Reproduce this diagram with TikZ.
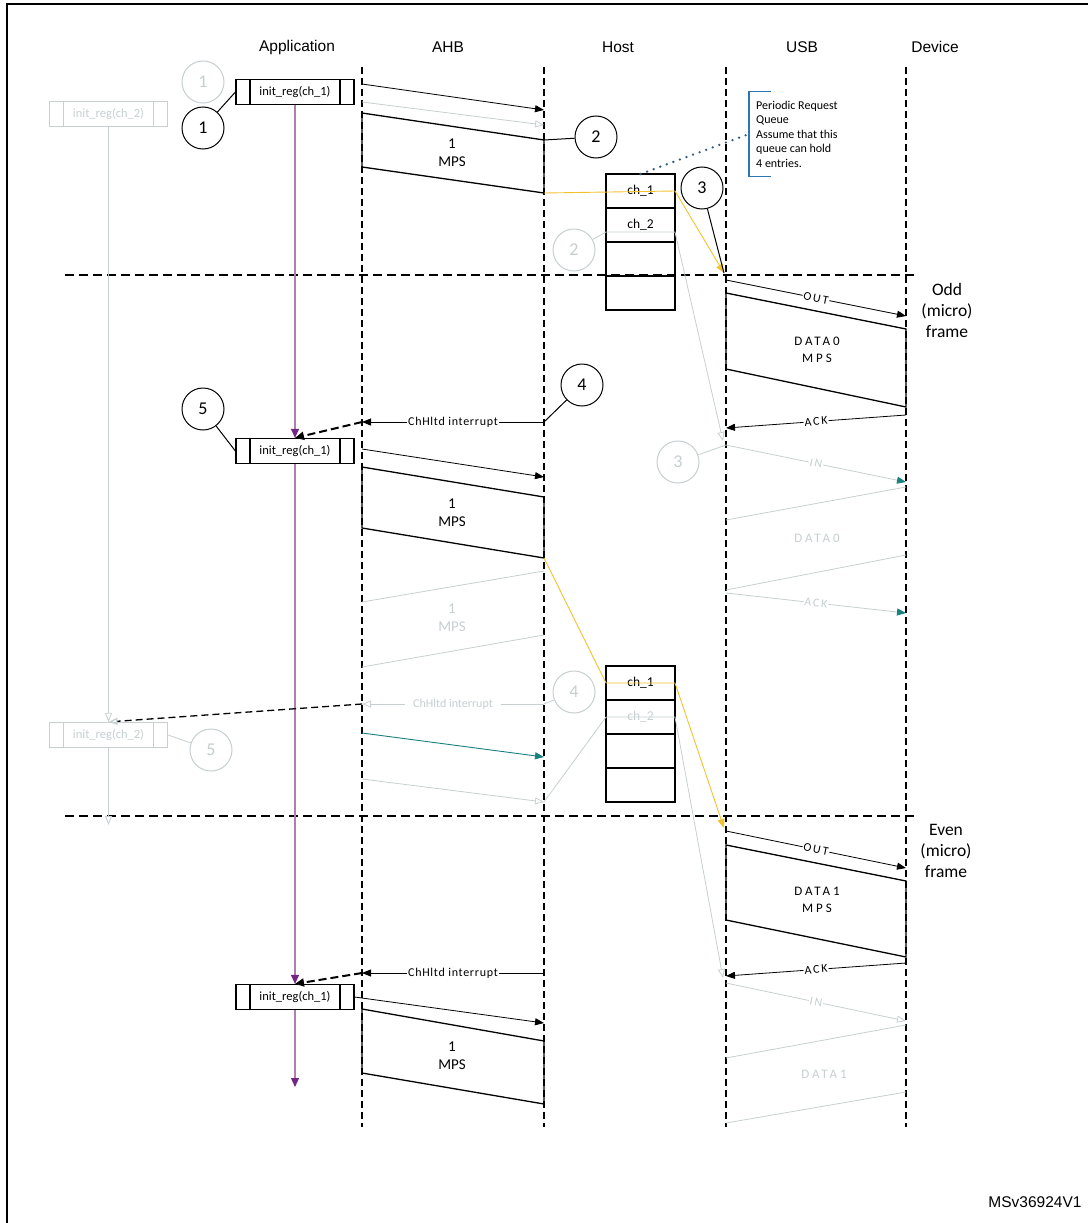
\documentclass[tikz,border=0pt]{standalone}
\usepackage{fontspec}
\setmainfont{Carlito}
\newfontfamily\arialfont{Liberation Sans}
\usepackage{tikz}
\usetikzlibrary{arrows.meta,positioning}
\definecolor{faded grey}{rgb}{0.78, 0.81, 0.82}
\definecolor{deep teal}{rgb}{0.1, 0.5, 0.5}
\definecolor{queue gold}{rgb}{0.95, 0.76, 0.18}
\definecolor{app purple}{rgb}{0.68, 0.5, 0.68}
\definecolor{tip purple}{rgb}{0.45, 0.15, 0.52}
\definecolor{note blue}{rgb}{0.18, 0.46, 0.71}
\definecolor{dot blue}{rgb}{0.2, 0.36, 0.5}

\begin{document}
\begin{tikzpicture}[x=1pt, y=-1pt,
	lifeline/.style={line width=2pt, dash pattern=on 7pt off 4pt},
	frameline/.style={line width=2pt, dash pattern=on 9pt off 5pt},
	msg/.style={line width=0.8pt, -{Triangle[length=9pt, width=7pt]}},
	ghost/.style={draw=faded grey, line width=0.8pt},
	ghostmsg/.style={ghost, -{Triangle[open, length=9pt, width=7pt]}},
	tealmsg/.style={ghost, -{Triangle[length=9pt, width=7pt, color=deep teal]}},
	irq/.style={line width=2pt, dash pattern=on 8pt off 4pt, -{Triangle[length=9pt, width=8pt]}},
	block/.style={line width=1.3pt},
	tag/.style={midway, sloped, fill=white, inner sep=1pt,
		font=\fontsize{12}{12}\selectfont\addfontfeature{LetterSpace=15}},
	payload/.style={align=center, font=\fontsize{15}{18}\selectfont},
	spaced/.style={align=center, font=\fontsize{13}{17}\selectfont\addfontfeature{LetterSpace=22}},
	stepnum/.style={circle, draw, line width=1pt, minimum size=42pt, inner sep=0pt,
		fill=white, font=\fontsize{18}{18}\selectfont},
	ghostnum/.style={stepnum, draw=faded grey, text=faded grey},
	regbox/.style={draw=#1, line width=1.2pt, minimum width=118pt, minimum height=25pt,
		inner sep=0pt, fill=white, font=\fontsize{12.5}{12.5}\selectfont,
		path picture={\draw[#1, line width=1.2pt]
			([xshift=14pt]path picture bounding box.north west) -- ([xshift=14pt]path picture bounding box.south west)
			([xshift=-14pt]path picture bounding box.north east) -- ([xshift=-14pt]path picture bounding box.south east);}},
	regbox/.default=black,
	cell/.style={draw, line width=1.2pt, minimum width=69pt, minimum height=34pt,
		inner sep=0pt, outer sep=0pt, font=\fontsize{13.5}{13.5}\selectfont},
	header/.style={font=\arialfont\fontsize{15.5}{15.5}\selectfont}]
	\useasboundingbox (0,0) rectangle (1087,1223);
	% outer frame
	\draw[line width=2pt] (7,1240) -- (7,4) -- (1100,4);
	% headers and lifelines
	\node[header] (app) at (297,47) {Application};
	\node[header] (ahb) at (448,47) {AHB};
	\node[header] (host) at (618,47) {Host};
	\node[header] (usb) at (802,47) {USB};
	\node[header] (dev) at (935,47) {Device};
	\foreach \x/\n in {362/ahbl, 544/hostl, 726/usbl, 906/devl} {
		\coordinate (\n top) at (\x,67);
		\coordinate (\n bot) at (\x,1127);
		\draw[lifeline] (\n top) -- (\n bot);
	}
	% (micro) frame boundaries
	\coordinate (oddw) at (65,275);
	\coordinate (odde) at (915,275);
	\coordinate (evenw) at (65,816);
	\coordinate (evene) at (915,816);
	\draw[frameline] (oddw) -- (odde) (evenw) -- (evene);
	\node[align=center, font=\fontsize{17.5}{21}\selectfont] (odd) at (947,310) {Odd\\(micro)\\frame};
	\node[align=center, font=\fontsize{17.5}{21}\selectfont] (even) at (946,851) {Even\\(micro)\\frame};

	% application side
	\node[regbox] (reg1) at (295,92) {init\_reg(ch\_1)};
	\node[regbox] (reg2) at (295,451) {init\_reg(ch\_1)};
	\node[regbox] (reg3) at (295,997) {init\_reg(ch\_1)};
	\node[regbox=faded grey, text=faded grey] (greg1) at (108.5,114) {init\_reg(ch\_2)};
	\node[regbox=faded grey, text=faded grey] (greg2) at (108.5,735) {init\_reg(ch\_2)};
	\coordinate (append) at (295,1087);
	\coordinate (gappend) at (108.5,825);
	\draw[app purple, line width=1.2pt, -{Triangle[length=9pt, width=8pt, color=tip purple]}]
		(reg1) -- (reg2.north);
	\draw[app purple, line width=1.2pt, -{Triangle[length=9pt, width=8pt, color=tip purple]}]
		(reg2) -- (reg3.north);
	\draw[app purple, line width=1.2pt, -{Triangle[length=9pt, width=8pt, color=tip purple]}]
		(reg3.south) -- (append);
	\draw[ghostmsg] (greg1.south) -- (greg2.north);
	\draw[ghostmsg] (greg2.south) -- (gappend);

	% queues in the host
	\node[cell] (q1a) at (640.5,191) {ch\_1};
	\node[cell, below=0pt of q1a] (q1b) {ch\_2};
	\node[cell, below=0pt of q1b] (q1c) {};
	\node[cell, below=0pt of q1c] (q1d) {};
	\node[cell] (q2a) at (640.5,683) {ch\_1};
	\node[cell, below=0pt of q2a, text=faded grey] (q2b) {ch\_2};
	\node[cell, below=0pt of q2b] (q2c) {};
	\node[cell, below=0pt of q2c] (q2d) {};
	% note on the queue
	\node[align=left, inner xsep=7pt, inner ysep=9pt, minimum height=84pt,
		font=\fontsize{12}{14.5}\selectfont, anchor=west] (note) at (749,134)
		{Periodic Request\\Queue\\Assume that this\\queue can hold\\4 entries.};
	\draw[note blue, line width=1.2pt] ([xshift=22pt]note.north west) -- (note.north west)
		-- (note.south west) -- ([xshift=22pt]note.south west);
	\draw[dot blue, line width=2.6pt, line cap=round, dash pattern=on 0pt off 7pt]
		(q1a.north) -- (note.west);

	% first write, odd frame
	\coordinate (wr1a) at (362,84);
	\coordinate (wr1b) at (544,110);
	\coordinate (gwr1a) at (362,102);
	\coordinate (gwr1b) at (544,125);
	\draw[msg] (wr1a) -- (wr1b);
	\draw[ghostmsg] (gwr1a) -- (gwr1b);
	\coordinate (m1tl) at (362,113);
	\coordinate (m1tr) at (544,140);
	\coordinate (m1br) at (544,193);
	\coordinate (m1bl) at (362,167);
	\draw[block] (m1tl) -- (m1tr) -- (m1br) -- (m1bl) -- cycle;
	\node[payload] (mps1) at (452,153) {1\\MPS};
	% request goes out on the usb
	\coordinate (usbodd) at (724,273);
	\coordinate (q1low) at (606,232);
	\coordinate (q1lowe) at (675,232);
	\coordinate (usbin1) at (723,441);
	\draw[queue gold, line width=0.9pt, -{Triangle[length=9pt, width=7pt]}]
		(m1br) -- (q1a.east) -- (usbodd);
	\draw[ghostmsg] (q1low) -- (q1lowe) -- (usbin1);
	\coordinate (out1a) at (726,280);
	\coordinate (out1b) at (906,316);
	\draw[msg] (out1a) -- node[tag] {OUT} (out1b);
	\coordinate (d0tl) at (726,293);
	\coordinate (d0tr) at (906,329);
	\coordinate (d0br) at (906,407);
	\coordinate (d0bl) at (726,369);
	\draw[block] (d0tl) -- (d0tr) -- (d0br) -- (d0bl) -- cycle;
	\node[spaced] (data0) at (817,350) {DATA0\\MPS};
	\coordinate (ack1a) at (906,415);
	\coordinate (ack1b) at (726,428);
	\draw[msg] (ack1a) -- node[tag] {ACK} (ack1b);
	% halted interrupt
	\coordinate (int1a) at (544,422);
	\coordinate (int1b) at (362,422);
	\draw[msg] (int1a) -- node[midway, fill=white, inner sep=1pt,
		font=\fontsize{12}{12}\selectfont\addfontfeature{LetterSpace=6}] {ChHltd interrupt} (int1b);
	\draw[irq] (int1b) -- (reg2.north);
	% second write
	\coordinate (wr2a) at (362,449);
	\coordinate (wr2b) at (544,477);
	\draw[msg] (wr2a) -- (wr2b);
	\coordinate (m2tl) at (362,467);
	\coordinate (m2tr) at (544,497);
	\coordinate (m2br) at (544,558);
	\coordinate (m2bl) at (362,528);
	\draw[block] (m2tl) -- (m2tr) -- (m2br) -- (m2bl) -- cycle;
	\node[payload] (mps2) at (452,513) {1\\MPS};

	% ch_2 transfer, faded
	\coordinate (in1a) at (726,445);
	\coordinate (in1b) at (906,482);
	\draw[tealmsg] (in1a) -- node[tag, text=faded grey] {IN} (in1b);
	\coordinate (gd0a) at (906,487);
	\coordinate (gd0b) at (726,520);
	\coordinate (gd0c) at (906,555);
	\coordinate (gd0d) at (726,590);
	\draw[ghost] (gd0a) -- (gd0b) (gd0c) -- (gd0d);
	\node[spaced, text=faded grey] (gdata0) at (817,538) {DATA0};
	\coordinate (gack1a) at (726,593);
	\coordinate (gack1b) at (906,613);
	\draw[tealmsg] (gack1a) -- node[tag, text=faded grey] {ACK} (gack1b);
	\coordinate (gm1a) at (544,571);
	\coordinate (gm1b) at (362,602);
	\coordinate (gm1c) at (544,635);
	\coordinate (gm1d) at (362,667);
	\draw[ghost] (gm1a) -- (gm1b) (gm1c) -- (gm1d);
	\node[payload, text=faded grey] (gmps) at (452,618) {1\\MPS};
	\coordinate (gint1a) at (544,704);
	\coordinate (gint1b) at (362,704);
	\draw[ghostmsg] (gint1a) -- node[midway, fill=white, inner xsep=8pt, text=faded grey,
		font=\fontsize{12}{12}\selectfont] {ChHltd interrupt} (gint1b);
	\draw[line width=1.3pt, dash pattern=on 7pt off 4pt,
		-{Triangle[open, length=9pt, width=7pt, color=faded grey]}] (gint1b) -- (greg2.north);
	\coordinate (twra) at (362,733);
	\coordinate (twrb) at (544,757);
	\draw[deep teal, line width=0.9pt, -{Triangle[length=9pt, width=7pt]}] (twra) -- (twrb);
	\coordinate (gwr2a) at (362,779);
	\coordinate (gwr2b) at (544,802);
	\draw[ghostmsg] (gwr2a) -- (gwr2b);
	\coordinate (q2low) at (606,717);
	\coordinate (q2lowe) at (675,717);
	\coordinate (usbin2) at (723,978);
	\draw[ghost] (gwr2b) -- (q2low);
	\draw[ghostmsg] (q2low) -- (q2lowe) -- (usbin2);

	% even frame
	\coordinate (usbeven) at (724,828);
	\draw[queue gold, line width=0.9pt, -{Triangle[length=9pt, width=7pt]}]
		(m2br) -- (q2a.west) -- (q2a.east) -- (usbeven);
	\coordinate (out2a) at (726,831);
	\coordinate (out2b) at (906,868);
	\draw[msg] (out2a) -- node[tag] {OUT} (out2b);
	\coordinate (d1tl) at (726,845);
	\coordinate (d1tr) at (906,881);
	\coordinate (d1br) at (906,957);
	\coordinate (d1bl) at (726,920);
	\draw[block] (d1tl) -- (d1tr) -- (d1br) -- (d1bl) -- cycle;
	\node[spaced] (data1) at (817,900) {DATA1\\MPS};
	\coordinate (ack2a) at (906,963);
	\coordinate (ack2b) at (726,976);
	\draw[msg] (ack2a) -- node[tag] {ACK} (ack2b);
	\coordinate (gin2a) at (726,983);
	\coordinate (gin2b) at (906,1021);
	\draw[ghostmsg] (gin2a) -- node[tag, text=faded grey] {IN} (gin2b);
	\coordinate (gd1a) at (906,1025);
	\coordinate (gd1b) at (726,1058);
	\coordinate (gd1c) at (906,1092);
	\coordinate (gd1d) at (726,1123);
	\draw[ghost] (gd1a) -- (gd1b) (gd1c) -- (gd1d);
	\node[spaced, text=faded grey] (gdata1) at (824,1074) {DATA1};
	\coordinate (int3a) at (544,973);
	\coordinate (int3b) at (362,973);
	\draw[msg] (int3a) -- node[midway, fill=white, inner sep=1pt,
		font=\fontsize{12}{12}\selectfont\addfontfeature{LetterSpace=6}] {ChHltd interrupt} (int3b);
	\draw[irq] (int3b) -- (reg3.north);
	\coordinate (wr3b) at (544,1023);
	\draw[msg] (reg3.east) -- (wr3b);
	\coordinate (m3tl) at (362,1009);
	\coordinate (m3tr) at (544,1041);
	\coordinate (m3br) at (544,1104);
	\coordinate (m3bl) at (362,1073);
	\draw[block] (m3tl) -- (m3tr) -- (m3br) -- (m3bl) -- cycle;
	\node[payload] (mps3) at (452,1056) {1\\MPS};

	% step numbers
	\node[stepnum] (n1) at (203,128) {1};
	\node[ghostnum] (g1) at (203,82) {1};
	\node[stepnum] (n2) at (596,137) {2};
	\node[stepnum] (n3) at (702,188) {3};
	\node[ghostnum] (g2) at (574,250) {2};
	\node[stepnum] (n4) at (582,385) {4};
	\node[stepnum] (n5) at (203,409) {5};
	\node[ghostnum] (g3) at (678,462) {3};
	\node[ghostnum] (g4) at (574,692) {4};
	\node[ghostnum] (g5) at (211,750) {5};
	\draw[line width=1pt] (n1) -- (reg1.west)
		(n2) -- (m1tr)
		(n3) -- (usbodd)
		(n4) -- (int1a)
		(n5) -- (reg2.west);
	\draw[ghost] (g2) -- (q1low)
		(g3) -- (in1a)
		(g4) -- (gint1a)
		(g5) -- (greg2.east);

	\node[font=\arialfont\fontsize{15.5}{15.5}\selectfont] (tagid) at (1035,1202) {MSv36924V1};
\end{tikzpicture}
\end{document}
